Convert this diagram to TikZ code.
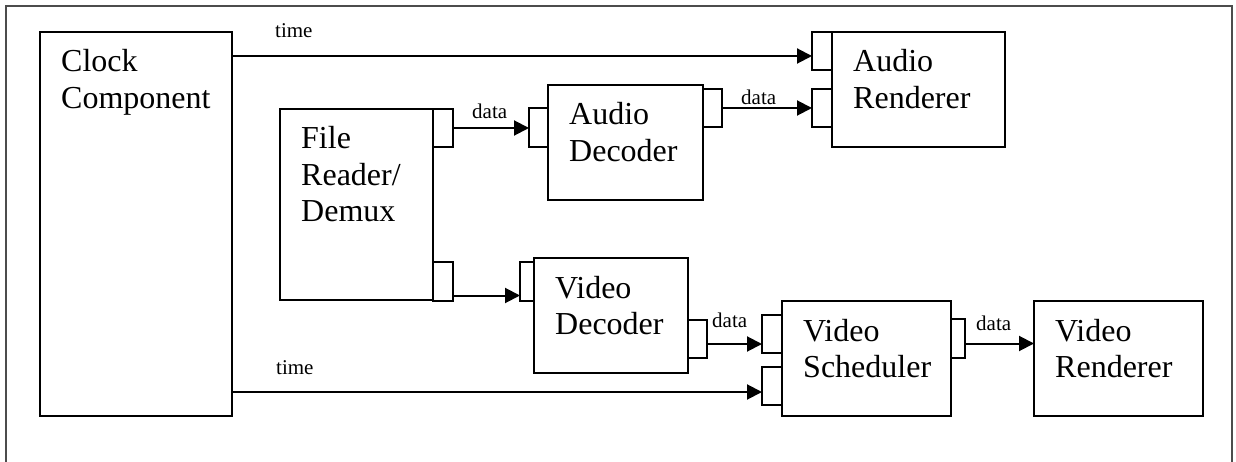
\documentclass[tikz,border=0pt]{standalone}
\usepackage{fontspec}
\setmainfont{Liberation Serif}
\usetikzlibrary{shapes,arrows,arrows.meta,positioning}
\tikzstyle{block} = [draw, rectangle, line width=2pt, outer sep=0pt,
    inner sep=0pt, anchor=north west]
\tikzstyle{port} = [block, minimum width=20pt, minimum height=38pt]
\tikzstyle{blocktext} = [font=\fontsize{32}{36.5}\selectfont, align=left,
    inner sep=0pt, anchor=base west, xshift=21pt, yshift=-76.5pt]
\tikzstyle{tag} = [font=\fontsize{21}{24}\selectfont, inner sep=0pt, anchor=base west]
\tikzstyle{flow} = [line width=2pt, -{Triangle[length=15pt,width=15pt]}]

\begin{document}
\begin{tikzpicture}[x=1pt, y=-1pt]
  \useasboundingbox (0,0) rectangle (1236,462);
  \draw [black!70, line width=2pt] (6,462) -- (6,6) -- (1232,6) -- (1232,462);
  % components
  \node [block, minimum width=192pt, minimum height=384pt,
    label={[blocktext]north west:Clock\\Component}] (clock) at (40,32) {};
  \node [block, minimum width=153pt, minimum height=191pt,
    label={[blocktext, yshift=-36.5pt]north west:File\\Reader/\\Demux}] (fr) at (280,109) {};
  \node [block, minimum width=155pt, minimum height=115pt,
    label={[blocktext]north west:Audio\\Decoder}] (ad) at (548,85) {};
  \node [block, minimum width=173pt, minimum height=115pt,
    label={[blocktext]north west:Audio\\Renderer}] (ar) at (832,32) {};
  \node [block, minimum width=154pt, minimum height=115pt,
    label={[blocktext]north west:Video\\Decoder}] (vd) at (534,258) {};
  \node [block, minimum width=169pt, minimum height=115pt,
    label={[blocktext]north west:Video\\Scheduler}] (vs) at (782,301) {};
  \node [block, minimum width=169pt, minimum height=115pt,
    label={[blocktext]north west:Video\\Renderer}] (vr) at (1034,301) {};
  % ports
  \node [port] (fr-o1) at (433,109) {};
  \node [port, minimum height=39pt] (fr-o2) at (433,262) {};
  \node [port, minimum width=19pt, minimum height=39pt] (ad-i) at (529,108) {};
  \node [port, minimum width=19pt] (ad-o) at (703,89) {};
  \node [port] (ar-i1) at (812,32) {};
  \node [port] (ar-i2) at (812,89) {};
  \node [port, minimum width=14pt, minimum height=39pt] (vd-i) at (520,262) {};
  \node [port, minimum width=19pt] (vd-o) at (688,320) {};
  \node [port] (vs-i1) at (762,315) {};
  \node [port] (vs-i2) at (762,367) {};
  \node [port, minimum width=14pt, minimum height=39pt] (vs-o) at (951,319) {};
  % connections
  \coordinate (t1) at ([yshift=-5pt]ar-i1.west);
  \coordinate (t2) at ([yshift=-6pt]vs-i2.west);
  \coordinate (f2) at ([yshift=-14pt]fr-o2.east);
  \coordinate (v1) at ([yshift=-5pt]vd-o.east);
  \coordinate (v2) at ([yshift=-5pt]vs-o.east);
  \draw [flow] (clock.east |- t1) -- (t1);
  \draw [flow] (fr-o1.east) -- (fr-o1.east -| ad-i.west);
  \draw [flow] (ad-o.east) -- (ad-o.east -| ar-i2.west);
  \draw [flow] (f2) -- (f2 -| vd-i.west);
  \draw [flow] (v1) -- (v1 -| vs-i1.west);
  \draw [flow] (v2) -- (v2 -| vr.west);
  \draw [flow] (clock.east |- t2) -- (t2);
  % labels
  \node [tag] (time1) at (275,38) {time};
  \node [tag] (data1) at (472,119) {data};
  \node [tag] (data2) at (741,105) {data};
  \node [tag] (data3) at (712,327) {data};
  \node [tag] (data4) at (976,330) {data};
  \node [tag] (time2) at (276,374) {time};
\end{tikzpicture}
\end{document}
